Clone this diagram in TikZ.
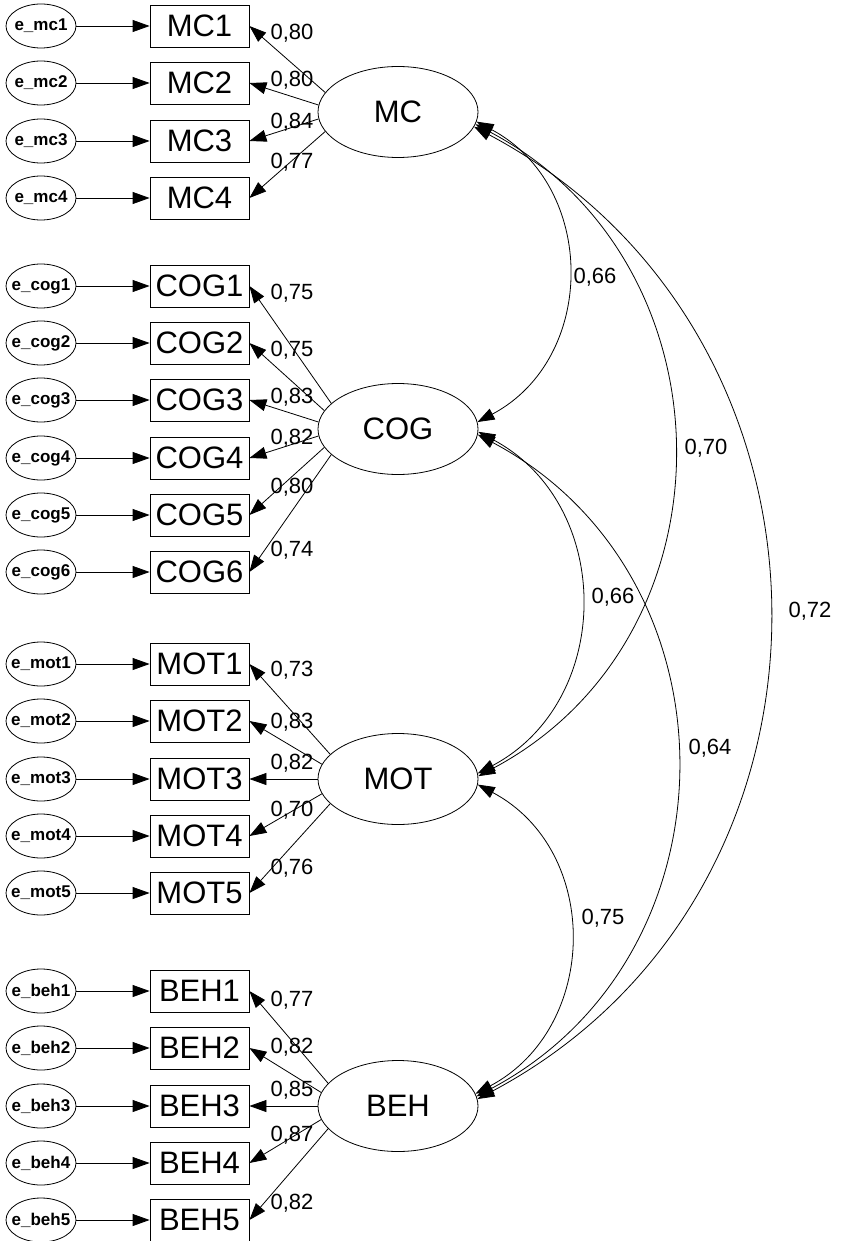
\documentclass[tikz,border=0pt]{standalone}
\usepackage{fontspec}
\setmainfont{Liberation Sans}
\usetikzlibrary{arrows.meta,shapes.geometric}
\tikzset{
  obs/.style={draw, rectangle, minimum width=99pt, minimum height=42pt, inner sep=0pt, font=\fontsize{31}{36}\selectfont},
  lat/.style={draw, ellipse, minimum width=160pt, minimum height=91pt, inner sep=0pt, font=\fontsize{31}{36}\selectfont},
  err/.style={draw, ellipse, minimum width=70pt, minimum height=44pt, inner sep=0pt, font=\bfseries\fontsize{17}{20}\selectfont},
  est/.style={inner sep=0pt, font=\fontsize{22}{26}\selectfont},
  cov/.style={<->, out=-28, in=28, looseness=1.16}
}
\begin{document}
\begin{tikzpicture}[x=1pt,y=-1pt,>={Triangle[length=17pt,width=12pt]},line width=0.8pt]
  \useasboundingbox (0,0) rectangle (840,1241);
  % factors
  \node[lat] (MC) at (398,112) {MC};
  \node[lat] (COG) at (398,429) {COG};
  \node[lat] (MOT) at (398,779) {MOT};
  \node[lat] (BEH) at (398,1106) {BEH};
  % items, errors and loadings
  \foreach \n/\e/\y/\a/\w/\ly/\f in {
      MC1/mc1/26/165/{0,80}/33/MC, MC2/mc2/83/175/{0,80}/80/MC,
      MC3/mc3/141/185/{0,84}/122/MC, MC4/mc4/198/195/{0,77}/162/MC,
      COG1/cog1/286/159/{0,75}/293/COG, COG2/cog2/343/166/{0,75}/350/COG,
      COG3/cog3/400/175/{0,83}/397/COG, COG4/cog4/458/185/{0,82}/438/COG,
      COG5/cog5/515/194/{0,80}/487/COG, COG6/cog6/572/201/{0,74}/550/COG,
      MOT1/mot1/664/160/{0,73}/670/MOT, MOT2/mot2/721/169/{0,83}/722/MOT,
      MOT3/mot3/779/180/{0,82}/763/MOT, MOT4/mot4/836/191/{0,70}/810/MOT,
      MOT5/mot5/893/200/{0,76}/868/MOT,
      BEH1/beh1/991/162/{0,77}/1000/BEH, BEH2/beh2/1048/170/{0,82}/1047/BEH,
      BEH3/beh3/1106/180/{0,85}/1090/BEH, BEH4/beh4/1163/190/{0,87}/1135/BEH,
      BEH5/beh5/1220/198/{0,82}/1203/BEH}
  {
    \node[err] (e\n) at (41,\y) {\makebox[0pt]{e\_\e}};
    \node[obs] (\n) at (199.5,\y) {\n};
    \draw[->] (e\n) -- (\n);
    \draw[->] (\f.\a) -- (\n.east);
    \node[est] (l\n) at (292,\ly) {\w};
  }
  % correlations
  \draw[cov] (MC.-7) to (COG.5);
  \draw[cov] (MC.-9) to (MOT.2);
  \draw[cov] (MC.-11) to (BEH.5);
  \draw[cov] (COG.-2) to (MOT.4);
  \draw[cov] (COG.-4) to (BEH.7);
  \draw[cov] (MOT.-4) to (BEH.9);
  \node[est] (rMCCOG) at (595,277) {0,66};
  \node[est] (rMCMOT) at (706,448) {0,70};
  \node[est] (rMCBEH) at (810,611) {0,72};
  \node[est] (rCOGMOT) at (613,597) {0,66};
  \node[est] (rCOGBEH) at (710,748) {0,64};
  \node[est] (rMOTBEH) at (603,918) {0,75};
\end{tikzpicture}
\end{document}
